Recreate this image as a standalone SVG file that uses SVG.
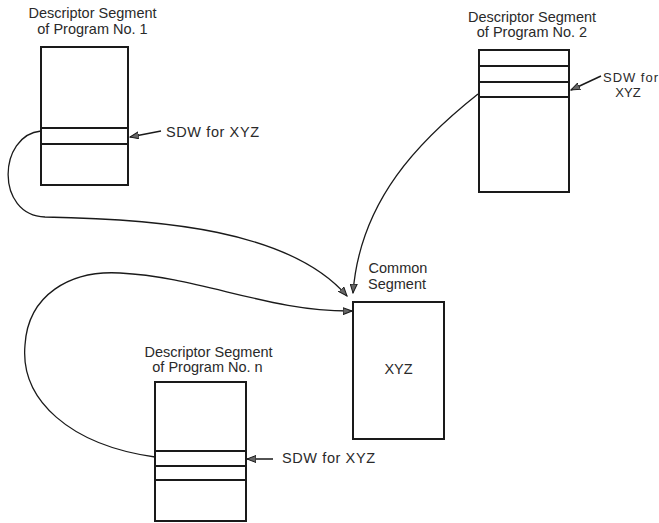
<svg xmlns="http://www.w3.org/2000/svg" width="659" height="523" viewBox="0 0 659 523">
<defs>
<style>
.box{fill:none;stroke:#1a1a1a;stroke-width:2}
.div{stroke:#1a1a1a;stroke-width:2}
.wire{fill:none;stroke:#1a1a1a;stroke-width:1.3}
.ptr{fill:none;stroke:#1a1a1a;stroke-width:1.5}
text{font-family:"Liberation Sans",Arial,sans-serif;font-size:14.5px;fill:#2a2a2a}
.c{text-anchor:middle}
.sdw{letter-spacing:0.6px}
.sm{font-size:13px}
</style>
<marker id="ah" markerWidth="10" markerHeight="8" refX="9" refY="4" orient="auto" markerUnits="userSpaceOnUse">
<path d="M0,0.5 L9,4 L0,7.5 Z" fill="#666" stroke="#1a1a1a" stroke-width="1"/>
</marker>
</defs>
<rect width="659" height="523" fill="#fff"/>

<g id="ds1">
<rect class="box" x="41" y="47" width="87" height="138"/>
<line class="div" x1="41" y1="128" x2="128" y2="128"/>
<line class="div" x1="41" y1="144" x2="128" y2="144"/>
<text class="c" x="92.5" y="17.5">Descriptor Segment</text>
<text class="c" x="92.5" y="34">of Program No. 1</text>
<text class="sdw" x="166" y="137">SDW for XYZ</text>
</g>

<g id="ds2">
<rect class="box" x="479" y="50" width="90" height="142"/>
<line class="div" x1="479" y1="66" x2="569" y2="66"/>
<line class="div" x1="479" y1="82" x2="569" y2="82"/>
<line class="div" x1="479" y1="97" x2="569" y2="97"/>
<text class="c" x="532" y="22">Descriptor Segment</text>
<text class="c" x="532" y="37">of Program No. 2</text>
<text class="sm" x="603" y="82" textLength="55">SDW for</text>
<text class="c sm" x="628" y="97">XYZ</text>
</g>

<g id="common">
<rect class="box" x="353" y="302" width="91" height="137"/>
<text class="c" x="398" y="272.5">Common</text>
<text class="c" x="397" y="288.5">Segment</text>
<text class="c" x="398.5" y="374">XYZ</text>
</g>

<g id="dsn">
<rect class="box" x="155" y="382" width="91" height="139"/>
<line class="div" x1="155" y1="451" x2="246" y2="451"/>
<line class="div" x1="155" y1="466" x2="246" y2="466"/>
<line class="div" x1="155" y1="480" x2="246" y2="480"/>
<text class="c" x="208.5" y="357">Descriptor Segment</text>
<text class="c" x="207.5" y="372">of Program No. n</text>
<text class="sdw" x="282" y="463">SDW for XYZ</text>
</g>

<g id="connectors">
<path class="wire" d="M41,131 C-2,135 -5,215 45,217 C160,219 290,230 347,296" marker-end="url(#ah)"/>
<path class="wire" d="M478,94 C420,140 360,200 353,293" marker-end="url(#ah)"/>
<path class="wire" d="M155,457 C70,445 20,400 25,345 C28,295 70,270 120,273 C200,277 270,312 352,311" marker-end="url(#ah)"/>
<line class="ptr" x1="161" y1="131" x2="130" y2="137" marker-end="url(#ah)"/>
<line class="ptr" x1="601" y1="76" x2="571" y2="90" marker-end="url(#ah)"/>
<line class="ptr" x1="273" y1="459" x2="247" y2="459" marker-end="url(#ah)"/>
</g>
</svg>
